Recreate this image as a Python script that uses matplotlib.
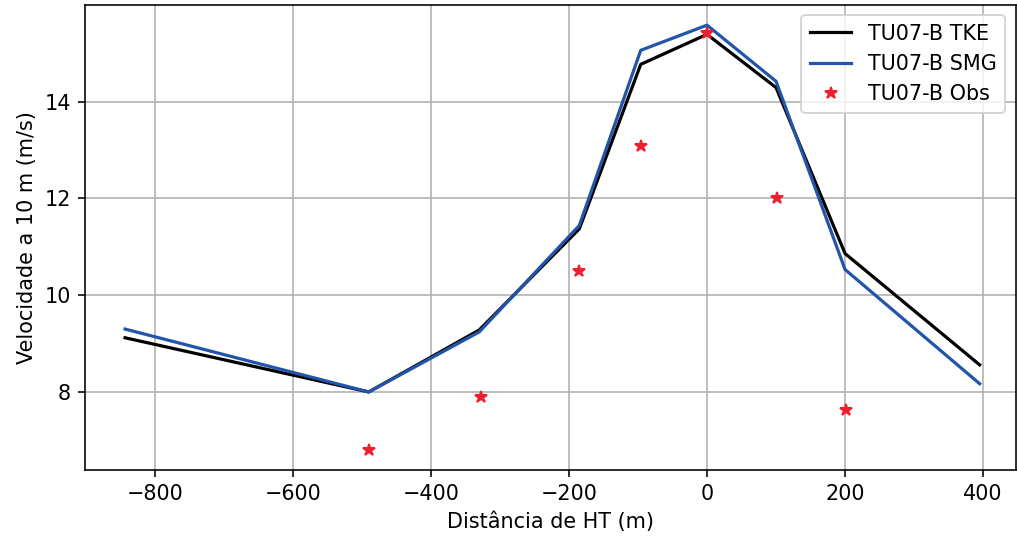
import matplotlib
matplotlib.use("Agg")
import matplotlib.pyplot as plt

# distances (m) and 10 m wind speed (m/s)
dist_model = [-843, -490, -330, -185, -96, 0, 100, 200, 395]
vel_tke = [9.12, 8.0, 9.28, 11.37, 14.77, 15.39, 14.29, 10.86, 8.56]
vel_smg = [9.30, 8.0, 9.24, 11.44, 15.06, 15.58, 14.42, 10.53, 8.17]

dist_obs = [-490, -328, -186, -96, 0, 101, 201]
vel_obs = [6.80, 7.90, 10.50, 13.09, 15.41, 12.00, 7.63]

# original looks like a default-styled figure saved at ~144 dpi
plt.rcParams["font.size"] = 10.4
fig = plt.figure(figsize=(1017 / 144, 537 / 144), dpi=144)
ax = fig.add_axes([0.0836, 0.125, 0.915, 0.866])

ax.plot(dist_model, vel_tke, color="black", lw=1.6, label="TU07-B TKE")
ax.plot(dist_model, vel_smg, color="#2255aa", lw=1.6, label="TU07-B SMG")
ax.plot(dist_obs, vel_obs, "*", color="#ee2030", ms=6.5, ls="none", label="TU07-B Obs")

ax.set_xlim(-901, 447)
ax.set_ylim(6.39, 16.0)
ax.set_xticks([-800, -600, -400, -200, 0, 200, 400])
ax.set_yticks([8, 10, 12, 14])
ax.set_xlabel("Distância de HT (m)")
ax.set_ylabel("Velocidade a 10 m (m/s)")
ax.grid(True)
ax.legend(loc="upper right")

fig.savefig("out.png", dpi=144)
